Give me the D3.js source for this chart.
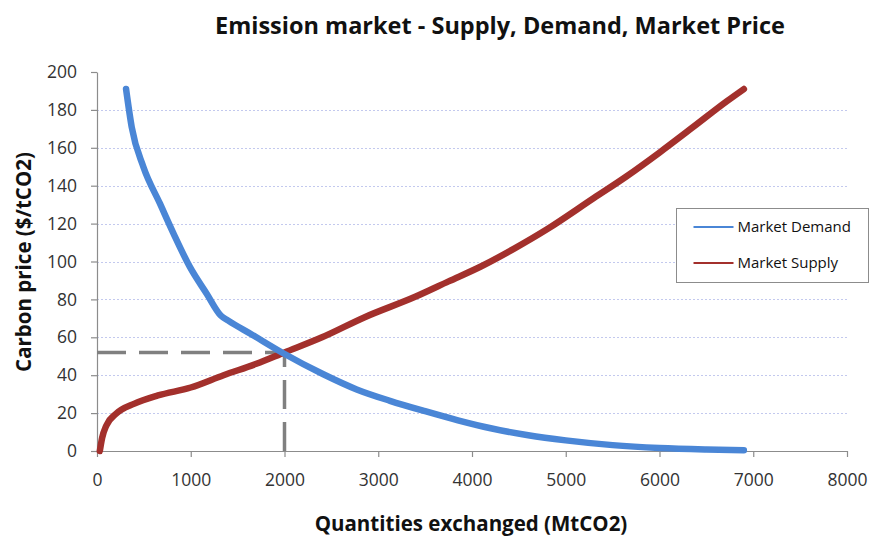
<!DOCTYPE html>
<html>
<head>
<meta charset="utf-8">
<script src="https://cdn.jsdelivr.net/npm/d3@7"></script>
<style>
  html, body { margin: 0; padding: 0; background: #fff; }
  svg { display: block; font-family: "Open Sans", "Noto Sans", sans-serif; }
</style>
</head>
<body>
<svg id="chart" width="872" height="537"></svg>
<script>
// Market demand curve: quantity (MtCO2) vs carbon price ($/tCO2)
const demandQ = [310, 370, 494, 672, 814, 992, 1170, 1320, 1400, 1650, 1987, 2414, 2770, 3125, 3500, 3850, 4200, 4600, 5000, 5500, 6000, 6500, 6900];
const demandP = [191, 171, 150, 130.5, 115, 97, 83, 71.5, 68.8, 61.5, 51.6, 40.5, 32.5, 26.5, 21, 16.2, 12, 8.3, 5.6, 3.1, 1.6, 0.8, 0.4];

// Market supply curve
const supplyQ = [30, 55, 100, 200, 400, 650, 1000, 1350, 1700, 2000, 2400, 2850, 3400, 3750, 4100, 4450, 4800, 5300, 5650, 6000, 6360, 6716, 6900];
const supplyP = [0, 7, 13.5, 19.5, 25, 29.3, 33.5, 40, 46, 52, 60, 70.5, 81.5, 89.5, 97.5, 106.8, 117, 133.5, 145, 157.5, 171, 184.5, 191];

// Equilibrium (market price)
const eqQuantity = 2000;
const eqPrice = 52;

const xTicks = [0, 1000, 2000, 3000, 4000, 5000, 6000, 7000, 8000];
const yTicks = [0, 20, 40, 60, 80, 100, 120, 140, 160, 180, 200];
const gridTicks = [20, 40, 60, 80, 100, 120, 140, 160, 180];

const seriesNames = ["Market Demand", "Market Supply"];
const seriesColors = ["#4a86d6", "#a3302c"];

const svg = d3.select("#chart");
const margin = { left: 97, right: 25, top: 72, bottom: 86 };
const W = 872, H = 537;

const x = d3.scaleLinear().domain([0, 8000]).range([margin.left, W - margin.right]);
const y = d3.scaleLinear().domain([0, 200]).range([H - margin.bottom, margin.top]);

// Title
svg.append("text")
  .attr("x", 500).attr("y", 34)
  .attr("text-anchor", "middle")
  .attr("font-size", 23.5).attr("font-weight", 700)
  .attr("fill", "#111")
  .text("Emission market - Supply, Demand, Market Price");

// Horizontal dotted gridlines
svg.append("g").selectAll("line").data(gridTicks).join("line")
  .attr("x1", x(0)).attr("x2", x(8000))
  .attr("y1", d => Math.round(y(d)) + 0.5).attr("y2", d => Math.round(y(d)) + 0.5)
  .attr("stroke", "#c3c9ee").attr("stroke-width", 1)
  .attr("stroke-dasharray", "2,2");

// Axes
const xAxis = svg.append("g")
  .attr("transform", `translate(0,${y(0)})`)
  .call(d3.axisBottom(x).tickValues(xTicks).tickSize(6).tickPadding(17).tickSizeOuter(0).tickFormat(d3.format("d")));
const yAxis = svg.append("g")
  .attr("transform", `translate(${x(0)},0)`)
  .call(d3.axisLeft(y).tickValues(yTicks).tickSize(6).tickPadding(14).tickSizeOuter(0));

[xAxis, yAxis].forEach(g => {
  g.select(".domain").attr("stroke", "#8c8c8c").attr("stroke-width", 1.2);
  g.selectAll(".tick line").attr("stroke", "#8c8c8c").attr("stroke-width", 1.2);
  g.selectAll(".tick text")
    .attr("font-family", "'Open Sans', sans-serif")
    .attr("font-size", 17.5).attr("fill", "#333");
});

// Axis titles
svg.append("text")
  .attr("x", 471).attr("y", 531)
  .attr("text-anchor", "middle")
  .attr("font-size", 20.5).attr("font-weight", 700).attr("fill", "#111")
  .text("Quantities exchanged (MtCO2)");

svg.append("text")
  .attr("transform", "translate(31,262) rotate(-90)")
  .attr("text-anchor", "middle")
  .attr("font-size", 20.5).attr("font-weight", 700).attr("fill", "#111")
  .text("Carbon price ($/tCO2)");

// Equilibrium dashed guides
const guide = svg.append("g")
  .attr("stroke", "#808080").attr("stroke-width", 3.5)
  .attr("stroke-dasharray", "29,13").attr("fill", "none");
guide.append("line")
  .attr("x1", x(0)).attr("x2", x(eqQuantity))
  .attr("y1", y(eqPrice)).attr("y2", y(eqPrice));
guide.append("line")
  .attr("x1", x(eqQuantity)).attr("x2", x(eqQuantity))
  .attr("y1", y(0)).attr("y2", y(eqPrice));

// Curves
const line = d3.line()
  .x(d => x(d[0])).y(d => y(d[1]))
  .curve(d3.curveMonotoneX);

const demand = demandQ.map((q, i) => [q, demandP[i]]);
const supply = supplyQ.map((q, i) => [q, supplyP[i]]);

svg.append("path").datum(supply)
  .attr("d", line).attr("fill", "none")
  .attr("stroke", seriesColors[1]).attr("stroke-width", 6.5)
  .attr("stroke-linecap", "round").attr("stroke-linejoin", "round");

svg.append("path").datum(demand)
  .attr("d", line).attr("fill", "none")
  .attr("stroke", seriesColors[0]).attr("stroke-width", 6.5)
  .attr("stroke-linecap", "round").attr("stroke-linejoin", "round");

// Legend
const legend = svg.append("g").attr("transform", "translate(676.5,208.5)");
legend.append("rect")
  .attr("width", 192).attr("height", 74)
  .attr("fill", "#fff").attr("stroke", "#8c8c8c").attr("stroke-width", 1);
seriesNames.forEach((name, i) => {
  const ly = 18.5 + i * 36;
  legend.append("line")
    .attr("x1", 17).attr("x2", 57).attr("y1", ly).attr("y2", ly)
    .attr("stroke", seriesColors[i]).attr("stroke-width", 2);
  legend.append("text")
    .attr("x", 61).attr("y", ly + 5)
    .attr("font-size", 15).attr("fill", "#111")
    .text(name);
});
</script>
</body>
</html>
